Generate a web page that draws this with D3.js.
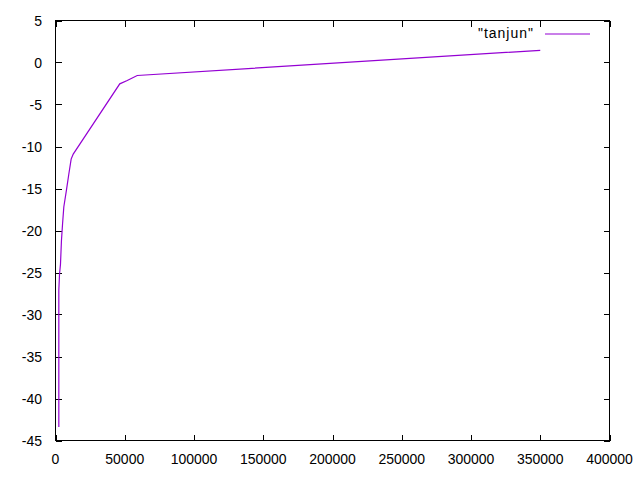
<!DOCTYPE html>
<html>
<head>
<meta charset="utf-8">
<script src="https://cdn.jsdelivr.net/npm/d3@7"></script>
<style>
html,body{margin:0;padding:0;background:#fff;}
svg{display:block;}
text{font-family:"Liberation Sans",Arial,sans-serif;font-size:14px;fill:#000;}
</style>
</head>
<body>
<svg id="chart" width="640" height="480"></svg>
<script>
const seriesName = '"tanjun"';
const xValues = [2400, 2400, 2900, 3600, 4300, 5100, 6000, 7900, 9600, 11300, 12800, 46400, 51800, 59000, 350000];
const yValues = [-43.4, -27.1, -25.2, -24.0, -21.2, -19.2, -17.2, -15.2, -13.3, -11.5, -10.9, -2.54, -2.14, -1.55, 1.45];
const xTicks = [0, 50000, 100000, 150000, 200000, 250000, 300000, 350000, 400000];
const yTicks = [5, 0, -5, -10, -15, -20, -25, -30, -35, -40, -45];

const svg = d3.select("#chart");
const L = 55.5, R = 609.5, T = 20.5, B = 440.5;
const x = d3.scaleLinear().domain([0, 400000]).range([L, R]);
const y = d3.scaleLinear().domain([-45, 5]).range([B, T]);
const tl = 6;

// ticks (inward, mirrored)
const g = svg.append("g").attr("stroke", "#000").attr("stroke-width", 1).attr("shape-rendering", "crispEdges");
xTicks.forEach(v => {
  const px = Math.round(x(v)) + 0.5;
  g.append("line").attr("x1", px).attr("x2", px).attr("y1", B).attr("y2", B - tl);
  g.append("line").attr("x1", px).attr("x2", px).attr("y1", T).attr("y2", T + tl);
});
yTicks.forEach(v => {
  const py = Math.round(y(v)) + 0.5;
  g.append("line").attr("x1", L).attr("x2", L + tl).attr("y1", py).attr("y2", py);
  g.append("line").attr("x1", R).attr("x2", R - tl).attr("y1", py).attr("y2", py);
});
svg.append("rect").attr("x", L).attr("y", T).attr("width", R - L).attr("height", B - T)
  .attr("fill", "none").attr("stroke", "#000").attr("shape-rendering", "crispEdges");

// tick labels
xTicks.forEach(v => {
  svg.append("text").attr("x", x(v)).attr("y", 459).attr("text-anchor", "middle")
    .attr("dominant-baseline", "central").text(String(v));
});
yTicks.forEach(v => {
  svg.append("text").attr("x", 42).attr("y", y(v) + 0.5).attr("text-anchor", "end")
    .attr("dominant-baseline", "central").text(String(v));
});

// line
const pts = xValues.map((v, i) => [v, yValues[i]]);
svg.append("path").datum(pts)
  .attr("fill", "none").attr("stroke", "#9400d3").attr("stroke-width", 1.2)
  .attr("d", d3.line().x(d => x(d[0])).y(d => y(d[1])));

// legend
svg.append("text").attr("x", 534).attr("y", 33).attr("text-anchor", "end")
  .attr("letter-spacing", "1px")
  .attr("dominant-baseline", "central").text(seriesName);
svg.append("line").attr("x1", 545).attr("x2", 590).attr("y1", 34).attr("y2", 34)
  .attr("stroke", "#9400d3").attr("stroke-width", 1.2);
</script>
</body>
</html>
